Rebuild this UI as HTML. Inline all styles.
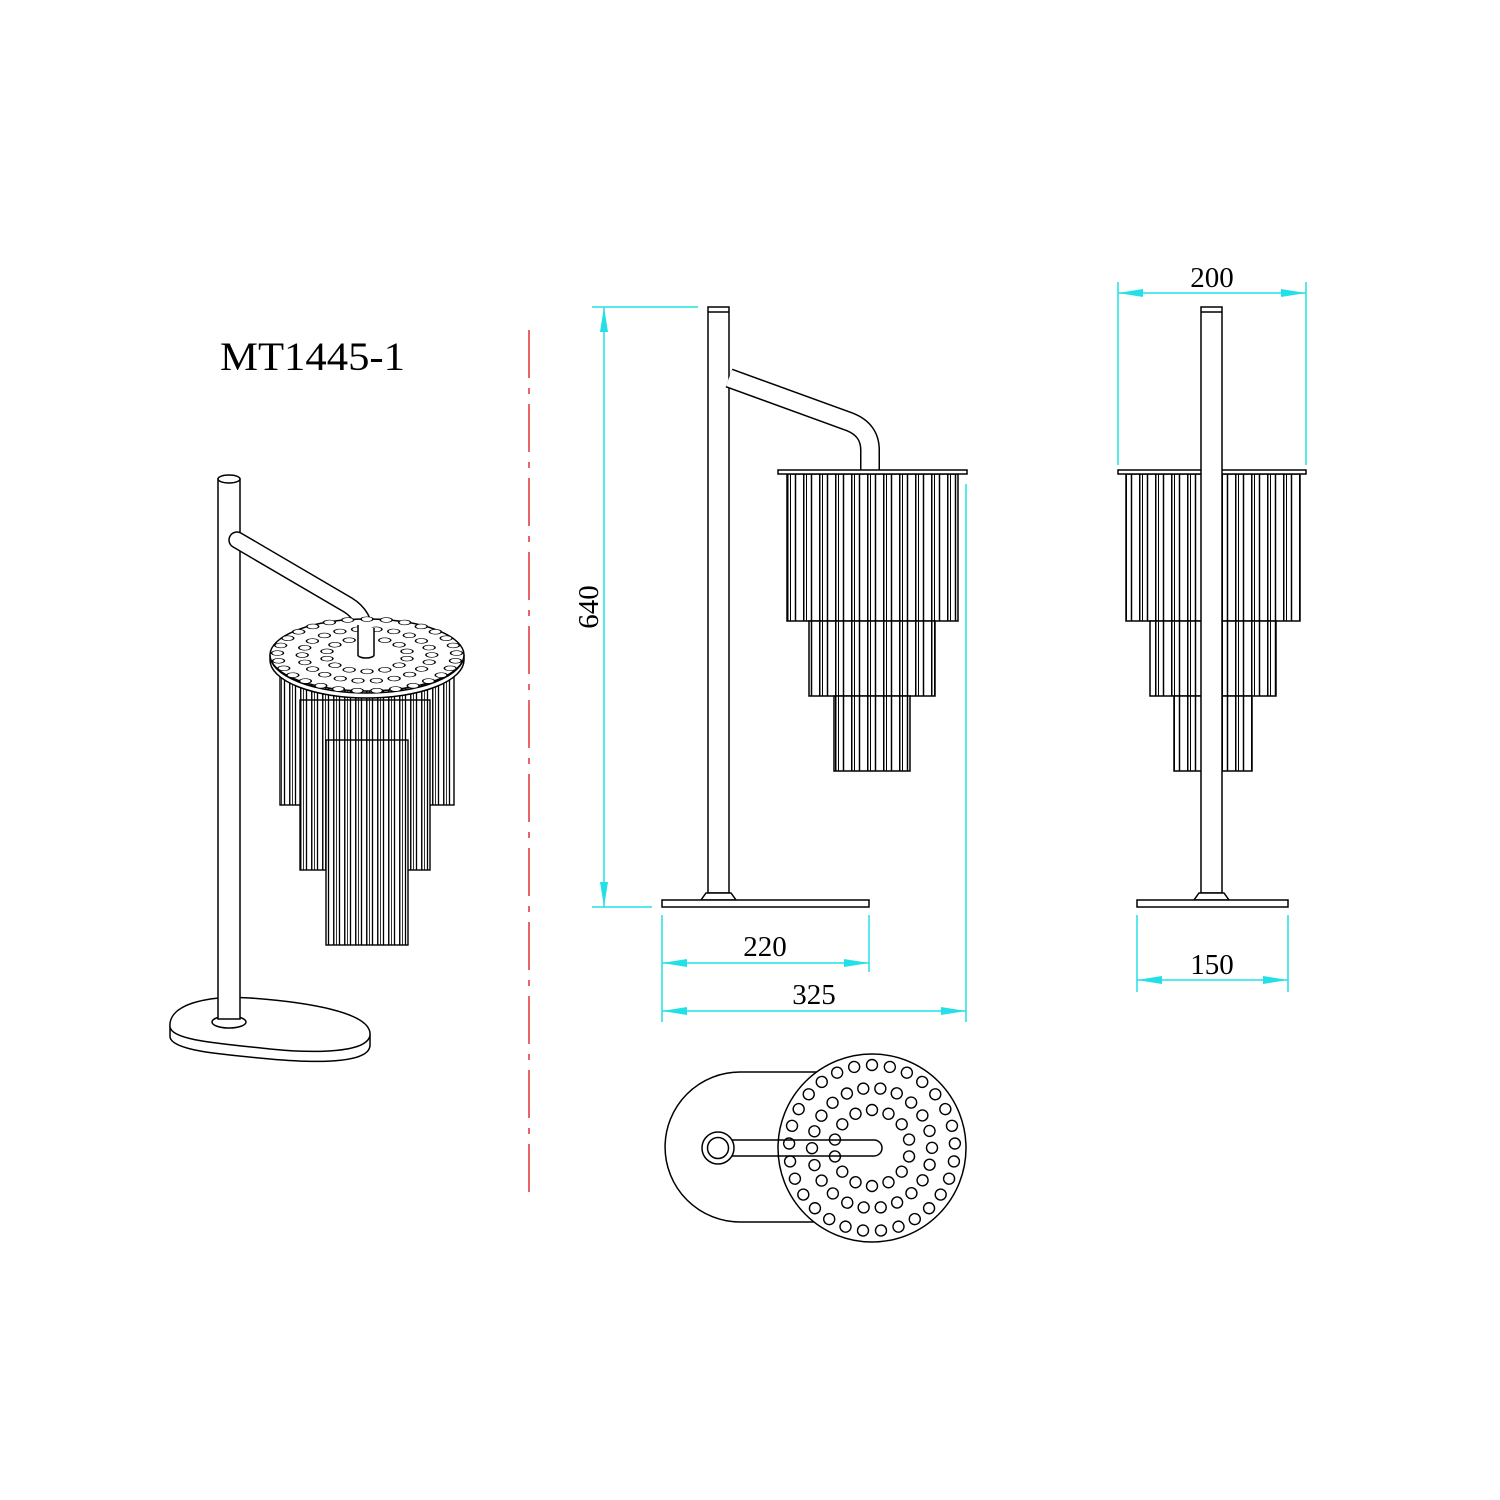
<!DOCTYPE html>
<html><head><meta charset="utf-8"><style>
html,body{margin:0;padding:0;background:#fff;}
svg{display:block;}
text{font-family:"Liberation Serif",serif;fill:#000;}
</style></head><body>
<svg width="1500" height="1500" viewBox="0 0 1500 1500" xmlns="http://www.w3.org/2000/svg">
<defs>
<pattern id="tf" patternUnits="userSpaceOnUse" width="16" height="10" x="787" y="0">
<rect width="16" height="10" fill="#fff"/>
<line x1="0.75" y1="0" x2="0.75" y2="10" stroke="#000" stroke-width="1.5"/>
<line x1="3.5" y1="0" x2="3.5" y2="10" stroke="#000" stroke-width="1"/>
<line x1="8.5" y1="0" x2="8.5" y2="10" stroke="#000" stroke-width="1.5"/>
</pattern>
<pattern id="tp" patternUnits="userSpaceOnUse" width="11" height="10" x="278" y="0">
<rect width="11" height="10" fill="#fff"/>
<line x1="0.75" y1="0" x2="0.75" y2="10" stroke="#000" stroke-width="1.4"/>
<line x1="3.5" y1="0" x2="3.5" y2="10" stroke="#000" stroke-width="0.8"/>
<line x1="6.5" y1="0" x2="6.5" y2="10" stroke="#000" stroke-width="1.3"/>
</pattern>
<circle id="h" cx="0" cy="-83" r="5.5" fill="#fff" stroke="#000" stroke-width="1.4"/>
<circle id="h2" cx="0" cy="-60" r="5.5" fill="#fff" stroke="#000" stroke-width="1.4"/>
<circle id="h3" cx="0" cy="-38" r="5.5" fill="#fff" stroke="#000" stroke-width="1.4"/>
<g id="holes">
<use href="#h" transform="rotate(0)"/><use href="#h" transform="rotate(12.41)"/><use href="#h" transform="rotate(24.83)"/><use href="#h" transform="rotate(37.24)"/><use href="#h" transform="rotate(49.66)"/><use href="#h" transform="rotate(62.07)"/><use href="#h" transform="rotate(74.48)"/><use href="#h" transform="rotate(86.9)"/><use href="#h" transform="rotate(99.31)"/><use href="#h" transform="rotate(111.72)"/><use href="#h" transform="rotate(124.14)"/><use href="#h" transform="rotate(136.55)"/><use href="#h" transform="rotate(148.97)"/><use href="#h" transform="rotate(161.38)"/><use href="#h" transform="rotate(173.79)"/><use href="#h" transform="rotate(186.21)"/><use href="#h" transform="rotate(198.62)"/><use href="#h" transform="rotate(211.03)"/><use href="#h" transform="rotate(223.45)"/><use href="#h" transform="rotate(235.86)"/><use href="#h" transform="rotate(248.28)"/><use href="#h" transform="rotate(260.69)"/><use href="#h" transform="rotate(273.1)"/><use href="#h" transform="rotate(285.52)"/><use href="#h" transform="rotate(297.93)"/><use href="#h" transform="rotate(310.34)"/><use href="#h" transform="rotate(322.76)"/><use href="#h" transform="rotate(335.17)"/><use href="#h" transform="rotate(347.59)"/>
<use href="#h2" transform="rotate(8)"/><use href="#h2" transform="rotate(24.36)"/><use href="#h2" transform="rotate(40.73)"/><use href="#h2" transform="rotate(57.09)"/><use href="#h2" transform="rotate(73.45)"/><use href="#h2" transform="rotate(89.82)"/><use href="#h2" transform="rotate(106.18)"/><use href="#h2" transform="rotate(122.55)"/><use href="#h2" transform="rotate(138.91)"/><use href="#h2" transform="rotate(155.27)"/><use href="#h2" transform="rotate(171.64)"/><use href="#h2" transform="rotate(188)"/><use href="#h2" transform="rotate(204.36)"/><use href="#h2" transform="rotate(220.73)"/><use href="#h2" transform="rotate(237.09)"/><use href="#h2" transform="rotate(253.45)"/><use href="#h2" transform="rotate(269.82)"/><use href="#h2" transform="rotate(286.18)"/><use href="#h2" transform="rotate(302.55)"/><use href="#h2" transform="rotate(318.91)"/><use href="#h2" transform="rotate(335.27)"/><use href="#h2" transform="rotate(351.64)"/>
<use href="#h3" transform="rotate(0)"/><use href="#h3" transform="rotate(25.71)"/><use href="#h3" transform="rotate(51.43)"/><use href="#h3" transform="rotate(77.14)"/><use href="#h3" transform="rotate(102.86)"/><use href="#h3" transform="rotate(128.57)"/><use href="#h3" transform="rotate(154.29)"/><use href="#h3" transform="rotate(180)"/><use href="#h3" transform="rotate(205.71)"/><use href="#h3" transform="rotate(231.43)"/><use href="#h3" transform="rotate(257.14)"/><use href="#h3" transform="rotate(282.86)"/><use href="#h3" transform="rotate(308.57)"/><use href="#h3" transform="rotate(334.29)"/>
</g>
</defs>

<text x="220" y="370" font-size="40" textLength="185" lengthAdjust="spacingAndGlyphs">MT1445-1</text>

<line x1="529" y1="330" x2="529" y2="1200" stroke="#e23030" stroke-width="1.5" stroke-dasharray="48,10,6,10"/>

<!-- perspective -->
<g stroke="#000" stroke-width="1.5" fill="#fff">
<path d="M170,1027 L170,1037 C172,1050 215,1054 270,1059 C325,1064 370,1062 370,1045 L370,1035 Z"/>
<path d="M170,1027 C168,1005 205,995 250,998 C305,1002 372,1012 370,1035 C368,1052 320,1054 270,1049 C215,1043 172,1040 170,1027 Z"/>
<ellipse cx="229" cy="1022" rx="17" ry="6"/>
<rect x="218" y="479" width="22" height="540"/>
<ellipse cx="229" cy="479" rx="11" ry="4"/>
</g>
<path d="M237,540 L348,605 Q366,616 366,640 L366,655" fill="none" stroke="#000" stroke-width="17.5" stroke-linecap="round"/>
<path d="M237,540 L348,605 Q366,616 366,640 L366,655" fill="none" stroke="#fff" stroke-width="14.5" stroke-linecap="round"/>
<g stroke="#000" stroke-width="1.4">
<rect x="280" y="670" width="174" height="135" fill="url(#tp)"/>
<rect x="300" y="700" width="130" height="170" fill="url(#tp)"/>
<rect x="326" y="740" width="82" height="205" fill="url(#tp)"/>
</g>
<g fill="#fff" stroke="#000" stroke-width="1.5">
<path d="M270,655 A97,38 0 0 0 464,655 L464,660 A97,38 0 0 1 270,660 Z"/>
<ellipse cx="367" cy="655" rx="97" ry="36"/>
</g>
<g transform="translate(367,655) scale(1,0.4)"><g transform="scale(1.08)"><use href="#holes"/></g></g>
<path d="M358,625 L358,655 A8,3 0 0 0 374,655 L374,628" fill="#fff" stroke="#000" stroke-width="1.5"/>

<!-- front view -->
<g stroke="#000" stroke-width="1.5" fill="#fff">
<rect x="708" y="307" width="21" height="586"/>
<line x1="708" y1="312" x2="729" y2="312"/>
</g>
<path d="M729,378 L850,422 Q870,430 870,450 L870,470" fill="none" stroke="#000" stroke-width="20"/>
<path d="M729,378 L850,422 Q870,430 870,450 L870,472" fill="none" stroke="#fff" stroke-width="17"/>
<g stroke="#000" stroke-width="1.5">
<rect x="787" y="474" width="171" height="147" fill="url(#tf)"/>
<rect x="809" y="621" width="126" height="75" fill="url(#tf)"/>
<rect x="834" y="696" width="76" height="75" fill="url(#tf)"/>
<rect x="778" y="470" width="189" height="4" fill="#fff"/>
</g>
<g stroke="#000" stroke-width="1.5" fill="#fff">
<path d="M706,893 L731,893 L736,900 L701,900 Z"/>
<rect x="662" y="900" width="207" height="7"/>
</g>

<!-- side view -->
<g stroke="#000" stroke-width="1.5">
<rect x="1126" y="474" width="174" height="147" fill="url(#tf)"/>
<rect x="1150" y="621" width="126" height="75" fill="url(#tf)"/>
<rect x="1174" y="696" width="78" height="75" fill="url(#tf)"/>
<rect x="1118" y="470" width="188" height="4" fill="#fff"/>
</g>
<g stroke="#000" stroke-width="1.5" fill="#fff">
<rect x="1201" y="307" width="21" height="586"/>
<line x1="1201" y1="312" x2="1222" y2="312"/>
<path d="M1199,893 L1224,893 L1229,900 L1194,900 Z"/>
<rect x="1137" y="900" width="151" height="7"/>
</g>

<!-- top view -->
<g stroke="#000" stroke-width="1.5">
<path d="M830,1072 L740,1072 A75,75 0 0 0 740,1222 L830,1222" fill="#fff"/>
<circle cx="872" cy="1148" r="94" fill="#fff"/>
</g>
<g transform="translate(872,1148)"><use href="#holes"/></g>
<g stroke="#000" stroke-width="1.5" fill="none">
<path d="M718,1140 L874,1140 A8,8 0 0 1 874,1156 L718,1156"/>
<circle cx="718" cy="1148" r="16" fill="#fff"/>
<circle cx="718" cy="1148" r="10.5"/>
</g>

<!-- dimensions -->
<g stroke="#22e0e6" stroke-width="1.5" fill="none">
<line x1="592" y1="307" x2="698" y2="307"/>
<line x1="592" y1="907" x2="652" y2="907"/>
<line x1="604" y1="307" x2="604" y2="907"/>
<line x1="662" y1="915" x2="662" y2="1022"/>
<line x1="869" y1="915" x2="869" y2="972"/>
<line x1="662" y1="963" x2="869" y2="963"/>
<line x1="966" y1="484" x2="966" y2="1022"/>
<line x1="662" y1="1011" x2="966" y2="1011"/>
<line x1="1118" y1="282" x2="1118" y2="465"/>
<line x1="1306" y1="282" x2="1306" y2="465"/>
<line x1="1118" y1="293" x2="1306" y2="293"/>
<line x1="1137" y1="915" x2="1137" y2="992"/>
<line x1="1288" y1="915" x2="1288" y2="992"/>
<line x1="1137" y1="980" x2="1288" y2="980"/>
</g>
<g fill="#22e0e6">
<path d="M604,307 L600,332 L608,332 Z"/><path d="M604,907 L600,882 L608,882 Z"/>
<path d="M662,963 L687,959 L687,967 Z"/><path d="M869,963 L844,959 L844,967 Z"/>
<path d="M662,1011 L687,1007 L687,1015 Z"/><path d="M966,1011 L941,1007 L941,1015 Z"/>
<path d="M1118,293 L1143,289 L1143,297 Z"/><path d="M1306,293 L1281,289 L1281,297 Z"/>
<path d="M1137,980 L1162,976 L1162,984 Z"/><path d="M1288,980 L1263,976 L1263,984 Z"/>
</g>
<g font-size="29" text-anchor="middle">
<text x="765" y="956">220</text>
<text x="814" y="1004">325</text>
<text x="1212" y="287">200</text>
<text x="1212" y="974">150</text>
<text transform="translate(598,607) rotate(-90)">640</text>
</g>
</svg>
</body></html>
